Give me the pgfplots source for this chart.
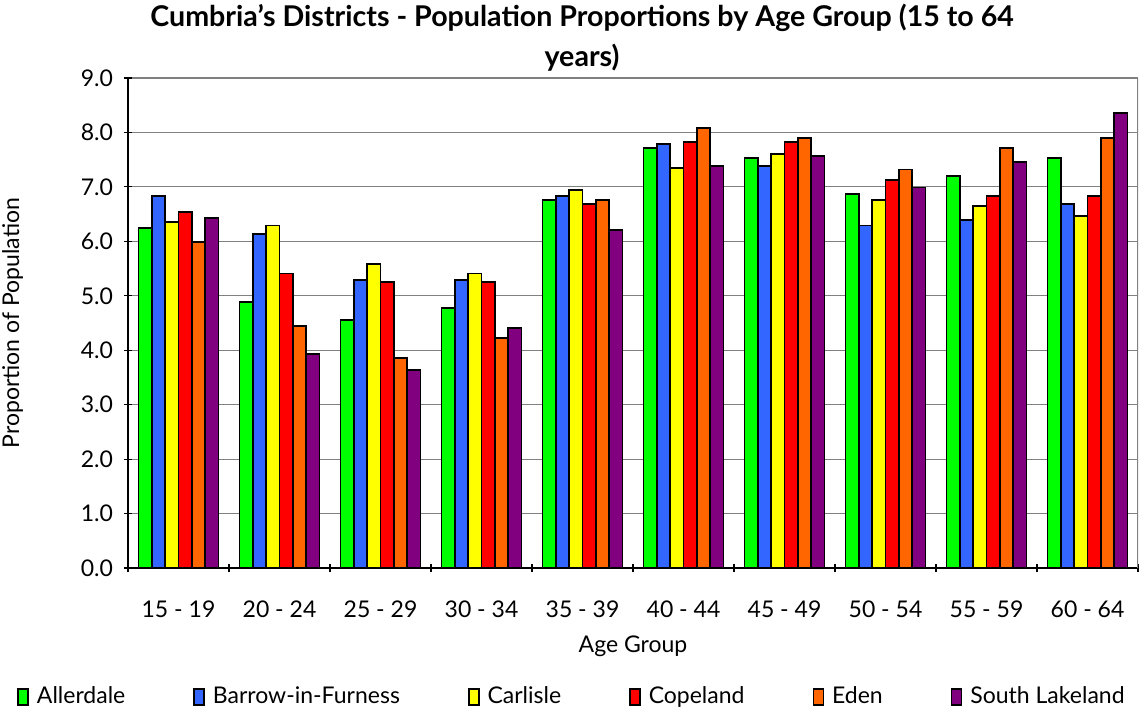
\documentclass[border=0pt]{standalone}
\usepackage{fontspec}
\setmainfont{Lato}
\usepackage{pgfplots}
\pgfplotsset{compat=1.18}
\definecolor{cAll}{HTML}{00FF00}
\definecolor{cBar}{HTML}{3366FF}
\definecolor{cCar}{HTML}{FFFF00}
\definecolor{cCop}{HTML}{FF0000}
\definecolor{cEde}{HTML}{FF6600}
\definecolor{cSLa}{HTML}{800080}
\definecolor{gridgray}{HTML}{808080}

\begin{document}
\begin{tikzpicture}[x=0.5pt,y=0.5pt]
\path[use as bounding box] (0,0) rectangle (1139,713);
\begin{axis}[
    at={(64pt,72.5pt)}, anchor=south west,
    scale only axis, width=505pt, height=245pt,
    ybar=0pt, bar width=0.132,
    xmin=-0.5, xmax=9.5, ymin=0, ymax=9,
    xtick={0,...,9},
    xticklabels={15 - 19,20 - 24,25 - 29,30 - 34,35 - 39,40 - 44,45 - 49,50 - 54,55 - 59,60 - 64},
    minor xtick={-0.5,0.5,...,9.5},
    major x tick style={draw=none},
    minor x tick style={black, line width=0.6pt},
    ytick={0,1,...,9},
    yticklabel={\pgfmathprintnumber[fixed,fixed zerofill,precision=1]{\tick}},
    /pgf/number format/assume math mode=true,
    tick align=outside, major tick length=4pt, minor tick length=4pt,
    ytick style={black, line width=0.6pt},
    axis lines=left, axis line style={-, black, line width=0.8pt},
    ymajorgrids, grid style={gridgray, line width=0.6pt},
    tick label style={font=\fontsize{11.5}{13}\selectfont},
    xticklabel style={yshift=-11pt},
    yticklabel style={xshift=-2pt},
    xlabel={Age Group}, ylabel={Proportion of Population},
    label style={font=\fontsize{11.5}{13}\selectfont},
    xlabel style={yshift=-2pt},
    ylabel style={yshift=22pt},
    every axis plot/.append style={draw=black, line width=0.9pt},
    legend columns=6,
    legend style={at={(rel axis cs:0.4406,-0.263)}, anchor=center, draw=none,
        font=\fontsize{11.5}{13}\selectfont, column sep=2pt,
        /tikz/every even column/.append style={column sep=32pt}},
    legend image code/.code={\draw[#1, line width=0.8pt] (0pt,-4pt) rectangle (5pt,4pt);},
]
\addplot[fill=cAll] coordinates {(0,6.24)(1,4.89)(2,4.56)(3,4.78)(4,6.76)(5,7.71)(6,7.53)(7,6.87)(8,7.20)(9,7.53)};
\addlegendentry{Allerdale}
\addplot[fill=cBar] coordinates {(0,6.83)(1,6.14)(2,5.29)(3,5.29)(4,6.83)(5,7.79)(6,7.38)(7,6.29)(8,6.39)(9,6.69)};
\addlegendentry{Barrow-in-Furness}
\addplot[fill=cCar] coordinates {(0,6.35)(1,6.29)(2,5.58)(3,5.41)(4,6.94)(5,7.35)(6,7.60)(7,6.76)(8,6.65)(9,6.47)};
\addlegendentry{Carlisle}
\addplot[fill=cCop] coordinates {(0,6.54)(1,5.41)(2,5.26)(3,5.26)(4,6.69)(5,7.83)(6,7.83)(7,7.13)(8,6.83)(9,6.83)};
\addlegendentry{Copeland}
\addplot[fill=cEde] coordinates {(0,5.99)(1,4.45)(2,3.86)(3,4.23)(4,6.76)(5,8.08)(6,7.90)(7,7.32)(8,7.71)(9,7.90)};
\addlegendentry{Eden}
\addplot[fill=cSLa] coordinates {(0,6.43)(1,3.93)(2,3.64)(3,4.41)(4,6.21)(5,7.38)(6,7.57)(7,6.99)(8,7.46)(9,8.35)};
\addlegendentry{South Lakeland}
\draw[gridgray, line width=0.6pt] (rel axis cs:1,0) -- (rel axis cs:1,1);
\end{axis}
\node[font=\bfseries\fontsize{14.3}{20}\selectfont, align=center] at (582,675)
  {Cumbria's Districts - Population Proportions by Age Group (15 to 64\\years)};
\end{tikzpicture}
\end{document}
